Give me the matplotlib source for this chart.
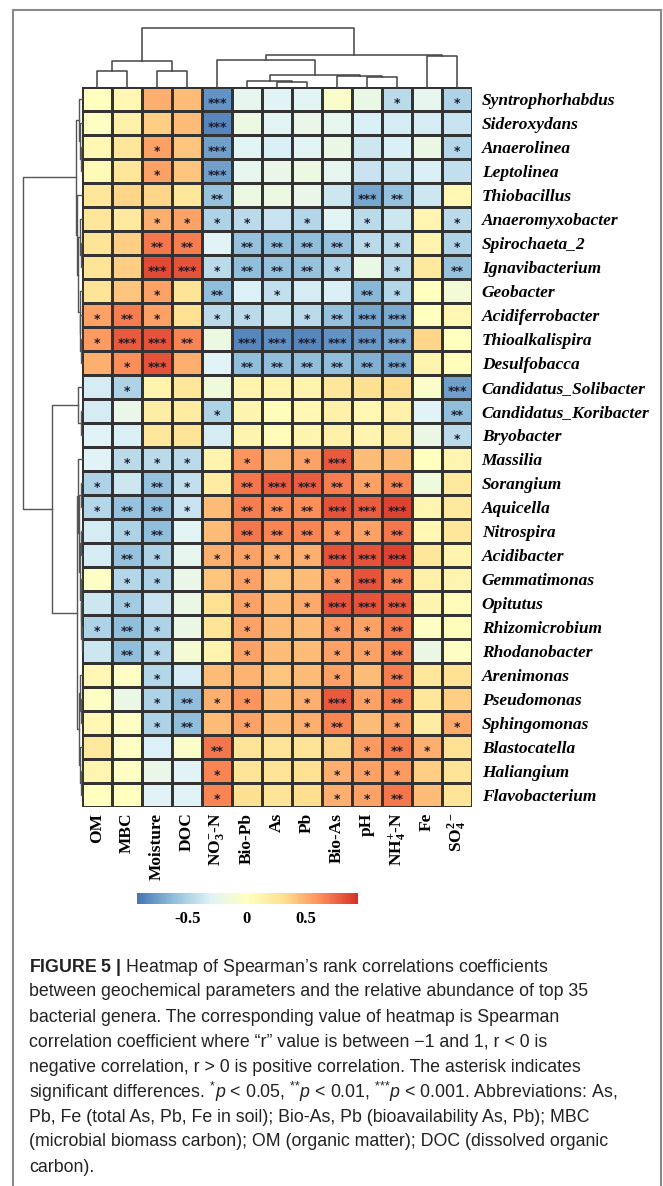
import numpy as np
import matplotlib
matplotlib.use("Agg")
import matplotlib.pyplot as plt
from matplotlib.colors import LinearSegmentedColormap
from matplotlib.lines import Line2D

plt.rcParams['mathtext.fontset'] = 'custom'
plt.rcParams['mathtext.rm'] = 'Liberation Sans'
plt.rcParams['mathtext.it'] = 'Liberation Sans:italic'
plt.rcParams['mathtext.bf'] = 'Liberation Sans:bold'
plt.rcParams['mathtext.sf'] = 'Liberation Serif:bold'

# columns (geochemical parameters), in clustered order
params = ["OM", "MBC", "Moisture", "DOC", r"NO$_{\mathsf{3}}^{\mathsf{-}}$-N", "Bio-Pb", "As",
          "Pb", "Bio-As", "pH", r"NH$_{\mathsf{4}}^{\mathsf{+}}$-N", "Fe", r"SO$_{\mathsf{4}}^{\mathsf{2-}}$"]

genera = ["Syntrophorhabdus", "Sideroxydans", "Anaerolinea", "Leptolinea", "Thiobacillus",
          "Anaeromyxobacter", "Spirochaeta_2", "Ignavibacterium", "Geobacter", "Acidiferrobacter",
          "Thioalkalispira", "Desulfobacca", "Candidatus_Solibacter", "Candidatus_Koribacter",
          "Bryobacter", "Massilia", "Sorangium", "Aquicella", "Nitrospira", "Acidibacter",
          "Gemmatimonas", "Opitutus", "Rhizomicrobium", "Rhodanobacter", "Arenimonas",
          "Pseudomonas", "Sphingomonas", "Blastocatella", "Haliangium", "Flavobacterium"]

# Spearman r
rho = np.array([
    [0.00, 0.08, 0.50, 0.45, -0.80, -0.25, -0.30, -0.28, -0.05, -0.20, -0.45, -0.25, -0.50],
    [-0.02, 0.15, 0.38, 0.45, -0.85, -0.18, -0.28, -0.22, -0.25, -0.33, -0.35, -0.35, -0.40],
    [0.08, 0.25, 0.55, 0.42, -0.75, -0.28, -0.33, -0.28, -0.20, -0.38, -0.33, -0.20, -0.48],
    [0.06, 0.25, 0.55, 0.42, -0.75, -0.25, -0.22, -0.18, -0.25, -0.40, -0.38, -0.33, -0.42],
    [0.25, 0.35, 0.35, 0.25, -0.60, -0.18, -0.18, -0.22, -0.38, -0.72, -0.60, -0.38, 0.08],
    [0.25, 0.22, 0.50, 0.55, -0.50, -0.45, -0.40, -0.48, -0.28, -0.45, -0.38, 0.10, -0.45],
    [0.28, 0.38, 0.70, 0.68, -0.30, -0.60, -0.62, -0.62, -0.60, -0.45, -0.45, 0.12, -0.50],
    [0.28, 0.38, 0.85, 0.82, -0.45, -0.62, -0.60, -0.60, -0.50, -0.20, -0.45, 0.22, -0.60],
    [0.28, 0.42, 0.55, 0.28, -0.62, -0.32, -0.42, -0.35, -0.33, -0.65, -0.48, 0.00, -0.12],
    [0.55, 0.68, 0.55, 0.30, -0.45, -0.45, -0.38, -0.45, -0.60, -0.72, -0.70, 0.00, 0.08],
    [0.58, 0.80, 0.82, 0.65, -0.18, -0.85, -0.82, -0.85, -0.80, -0.78, -0.72, 0.35, 0.00],
    [0.50, 0.62, 0.82, 0.50, -0.30, -0.62, -0.62, -0.62, -0.62, -0.68, -0.72, 0.12, 0.02],
    [-0.35, -0.50, 0.12, 0.25, -0.15, 0.12, 0.12, 0.12, 0.25, 0.30, 0.32, -0.05, -0.75],
    [-0.35, -0.22, 0.18, 0.20, -0.50, 0.10, 0.02, 0.08, 0.15, 0.08, 0.15, -0.30, -0.62],
    [-0.30, -0.33, 0.25, 0.28, -0.35, 0.10, 0.03, 0.10, 0.15, 0.10, 0.18, -0.20, -0.45],
    [-0.30, -0.45, -0.45, -0.45, 0.12, 0.60, 0.48, 0.55, 0.80, 0.45, 0.45, 0.00, 0.10],
    [-0.50, -0.38, -0.60, -0.42, 0.20, 0.70, 0.78, 0.78, 0.68, 0.55, 0.65, -0.15, 0.22],
    [-0.48, -0.60, -0.62, -0.40, 0.45, 0.68, 0.62, 0.62, 0.82, 0.78, 0.88, 0.10, 0.22],
    [-0.35, -0.50, -0.62, -0.28, 0.45, 0.70, 0.65, 0.65, 0.60, 0.55, 0.70, 0.08, 0.25],
    [-0.35, -0.60, -0.50, -0.25, 0.50, 0.55, 0.50, 0.50, 0.82, 0.82, 0.88, 0.25, 0.12],
    [-0.03, -0.48, -0.50, -0.22, 0.42, 0.55, 0.42, 0.45, 0.58, 0.82, 0.65, 0.15, 0.10],
    [-0.38, -0.55, -0.40, -0.20, 0.30, 0.55, 0.45, 0.52, 0.82, 0.82, 0.80, 0.10, 0.03],
    [-0.50, -0.62, -0.50, -0.20, 0.28, 0.55, 0.45, 0.45, 0.58, 0.55, 0.68, -0.02, 0.02],
    [-0.38, -0.62, -0.48, -0.10, 0.12, 0.55, 0.45, 0.45, 0.55, 0.55, 0.65, -0.20, -0.02],
    [0.08, -0.03, -0.48, -0.35, 0.45, 0.48, 0.42, 0.45, 0.55, 0.45, 0.68, 0.25, 0.30],
    [-0.02, -0.20, -0.50, -0.62, 0.50, 0.60, 0.45, 0.50, 0.80, 0.55, 0.68, 0.25, 0.38],
    [0.08, -0.03, -0.50, -0.62, 0.45, 0.55, 0.45, 0.50, 0.65, 0.45, 0.55, 0.20, 0.52],
    [0.22, -0.02, -0.32, -0.05, 0.70, 0.28, 0.28, 0.28, 0.35, 0.58, 0.68, 0.50, 0.30],
    [0.10, -0.02, -0.22, -0.30, 0.65, 0.28, 0.28, 0.30, 0.50, 0.55, 0.58, 0.38, 0.28],
    [0.00, 0.00, -0.30, -0.30, 0.65, 0.30, 0.28, 0.32, 0.50, 0.55, 0.70, 0.45, 0.28],
])

# number of asterisks per cell, one string per genus
signif = ["0000300000101", "0000300000000", "0010300000001", "0010300000000",
          "0000200003200", "0011110101001", "0022022221101", "0033122210102",
          "0010201002100", "1210110123300", "1332033333300", "0130022222300",
          "0100000000003", "0000100000002", "0000000000001", "0111010130000",
          "1021023321200", "1221022233300", "0120022211200", "0210111133300",
          "0110010013200", "0100010133300", "1210010011200", "0210010011200",
          "0010000010200", "0012110131200", "0012010120101", "0000200001210",
          "0000100011100", "0000100011200"]

# dendrograms: (left, right, merge height in px)
col_tree = (((0, 1, 15.6), (2, 3, 16.3), 25.6),
            (((4, (((5, (6, 7, 4.6), 5.6)), (8, (9, 10, 10.0), 11.3), 12.3), 27.3)),
             (11, 12, 30.6), 32.3), 59.0)
row_tree = ((((0, (1, (2, 3, 1.0), 2.0), 3.0)),
             (4, ((5, (6, 7, 1.0), 2.0), (8, (9, (10, 11, 1.0), 2.0), 2.5), 4.0), 5.0), 6.0),
            ((12, (13, 14, 1.5), 4.0),
             ((15, ((16, 17, 1.0), ((18, 19, 1.0), (20, (21, (22, 23, 0.5), 1.0), 1.5), 2.0), 3.0), 4.0),
              ((24, (25, 26, 1.0), 2.0), (27, (28, 29, 1.0), 2.0), 3.0), 5.0), 30.0), 59.0)

caption = [
    r"$\mathbf{FIGURE\ 5\ |}$ Heatmap of Spearman’s rank correlations coefficients",
    "between geochemical parameters and the relative abundance of top 35",
    "bacterial genera. The corresponding value of heatmap is Spearman",
    "correlation coefficient where “r” value is between −1 and 1, r < 0 is",
    "negative correlation, r > 0 is positive correlation. The asterisk indicates",
    r"significant differences. $^{{*}}\mathit{p}$ < 0.05, $^{{*}{*}}\mathit{p}$ < 0.01, "
    r"$^{{*}{*}{*}}\mathit{p}$ < 0.001. Abbreviations: As,",
    "Pb, Fe (total As, Pb, Fe in soil); Bio-As, Pb (bioavailability As, Pb); MBC",
    "(microbial biomass carbon); OM (organic matter); DOC (dissolved organic",
    "carbon).",
]

W, H = 663, 1186


def box(x0, y0, x1, y1):
    return [x0 / W, 1 - y1 / H, (x1 - x0) / W, (y1 - y0) / H]


def dendro(node, segs):
    if isinstance(node, int):
        return node + 0.5, 0.0
    left, right, h = node
    c1, h1 = dendro(left, segs)
    c2, h2 = dendro(right, segs)
    segs.append(([c1, c1, c2, c2], [h1, h, h, h2]))
    return (c1 + c2) / 2, h


cmap = LinearSegmentedColormap.from_list(
    "rdylbu", ["#4575B4", "#91BFDB", "#E0F3F8", "#FFFFBF", "#FEE090", "#FC8D59", "#D73027"])

fig = plt.figure(figsize=(W / 100, H / 100), dpi=100)

ax = fig.add_axes(box(82, 87, 472, 807))
mesh = ax.pcolormesh(rho, cmap=cmap, vmin=-0.93, vmax=0.94, edgecolors="#333333", linewidth=0.8)
ax.set_xlim(0, len(params))
ax.set_ylim(len(genera), 0)
for s in ax.spines.values():
    s.set_visible(False)

for i, row in enumerate(signif):
    for j, n in enumerate(row):
        if n != "0":
            ax.text(j + 0.5, i + 0.82, "*" * int(n), ha="center", va="baseline",
                    fontsize=9, fontweight="bold", color="#1c1c2c")

ax.set_xticks(np.arange(len(params)) + 0.5)
ax.set_xticklabels(params, rotation=90, fontfamily="Liberation Serif", fontweight="bold", fontsize=12.5)
ax.set_yticks(np.arange(len(genera)) + 0.5)
ax.set_yticklabels(genera, fontfamily="Liberation Serif", fontweight="bold", fontstyle="italic", fontsize=12.5)
ax.tick_params(axis="x", length=0, pad=4)
ax.tick_params(axis="y", length=0, pad=7, left=False, labelleft=False, right=True, labelright=True)

# column dendrogram
ax_top = fig.add_axes(box(82, 27, 472, 87))
segs = []
dendro(col_tree, segs)
for xs, ys in segs:
    ax_top.plot(xs, ys, color="#444444", lw=1.1, clip_on=False)
ax_top.set_xlim(0, len(params))
ax_top.set_ylim(0, 60)
ax_top.axis("off")

# row dendrogram
ax_left = fig.add_axes(box(22, 87, 82, 807))
segs = []
dendro(row_tree, segs)
for ys, xs in segs:
    ax_left.plot(xs, ys, color="#555555", lw=1.0, clip_on=False)
ax_left.set_xlim(60, 0)
ax_left.set_ylim(len(genera), 0)
ax_left.axis("off")

# colour key
ax_cb = fig.add_axes(box(137, 893, 358, 904))
cb = fig.colorbar(mesh, cax=ax_cb, orientation="horizontal", ticks=[-0.5, 0, 0.5])
cb.outline.set_visible(False)
ax_cb.tick_params(length=0, pad=5)
ax_cb.set_xticklabels(["-0.5", "0", "0.5"], fontfamily="Liberation Serif", fontweight="bold", fontsize=12)

# caption
for k, line in enumerate(caption):
    fig.text(29 / W, 1 - (967 + 25 * k) / H, line, ha="left", va="center",
             fontfamily="Liberation Sans", fontsize=12.8, color="#222222")

# frame around the figure
frame = "#8a8a8a"
fig.add_artist(Line2D([13 / W, 13 / W], [0, 1 - 10 / H], color=frame, lw=1.5))
fig.add_artist(Line2D([13 / W, 661 / W], [1 - 10 / H, 1 - 10 / H], color=frame, lw=1.5))
fig.add_artist(Line2D([661 / W, 661 / W], [0, 1 - 10 / H], color=frame, lw=1.5))

fig.savefig("out.png", dpi=100)
